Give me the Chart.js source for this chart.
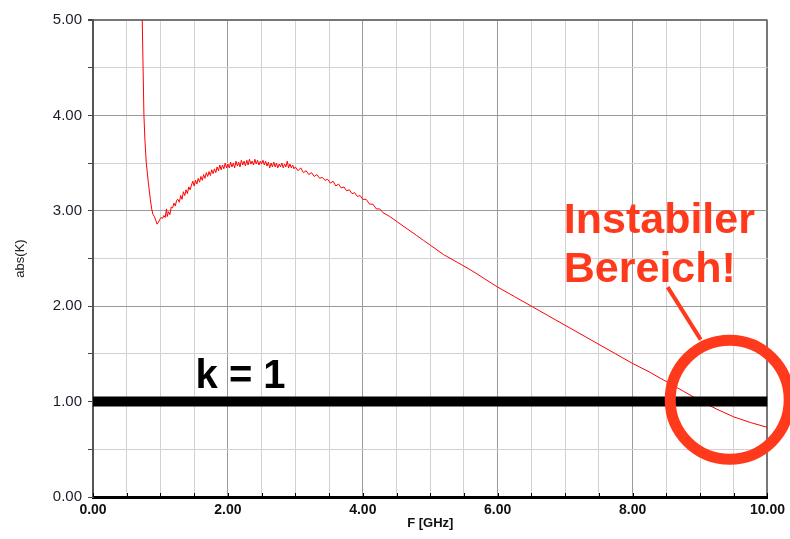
<!DOCTYPE html>
<html>
<head>
<meta charset="utf-8">
<title>abs(K)</title>
<script src="https://cdn.jsdelivr.net/npm/chart.js@4/dist/chart.umd.min.js"></script>
<style>
	html, body { margin: 0; padding: 0; background: #fff; }
	#wrap { width: 790px; height: 539px; }
</style>
</head>
<body>
<div id="wrap"><canvas id="kChart" width="790" height="539"></canvas></div>
<script>
'use strict'

// frequency in GHz
let freq = [
	0.73, 0.755, 0.77, 0.79, 0.82, 0.85, 0.87, 0.89, 0.91, 0.93, 0.95, 0.97, 0.99,
	1.01, 1.03, 1.05, 1.07, 1.09, 1.10, 1.12, 1.14, 1.16, 1.18, 1.20, 1.22, 1.24, 1.26, 1.28,
	1.30, 1.32, 1.34, 1.36, 1.38, 1.40, 1.42, 1.44, 1.46, 1.48, 1.50, 1.52, 1.54, 1.56, 1.58,
	1.60, 1.62, 1.64, 1.66, 1.68, 1.70, 1.72, 1.74, 1.76, 1.78, 1.80, 1.82, 1.84, 1.86, 1.88,
	1.90, 1.92, 1.94, 1.96, 1.98, 2.00, 2.02, 2.04, 2.06, 2.08, 2.10, 2.12, 2.14, 2.16, 2.18,
	2.20, 2.22, 2.24, 2.26, 2.28, 2.30, 2.32, 2.34, 2.36, 2.38, 2.40, 2.42, 2.44, 2.46, 2.48,
	2.50, 2.52, 2.54, 2.56, 2.58, 2.60, 2.62, 2.64, 2.66, 2.68, 2.70, 2.72, 2.74, 2.76, 2.78,
	2.80, 2.82, 2.84, 2.86, 2.88, 2.90, 2.92, 2.94, 2.96, 2.98, 3.00, 3.04, 3.08, 3.12, 3.16,
	3.20, 3.24, 3.28, 3.32, 3.36, 3.40, 3.44, 3.48, 3.52, 3.56, 3.60, 3.64, 3.68, 3.72, 3.76,
	3.80, 3.84, 3.88, 3.92, 3.96, 4.00, 4.05, 4.10, 4.15, 4.20, 4.25, 4.30, 4.40, 4.50, 4.60,
	4.70, 4.80, 4.90, 5.00, 5.20, 5.40, 5.60, 5.80, 6.00, 6.25, 6.50, 6.75, 7.00, 7.25, 7.50,
	7.75, 8.00, 8.25, 8.50, 8.75, 9.00, 9.25, 9.50, 9.75, 10.00
];

// abs(K) values matching freq
let absK = [
	5.00, 4.00, 3.74, 3.50, 3.30, 3.12, 3.02, 2.96, 2.94, 2.90, 2.86, 2.88, 2.91,
	2.93, 2.92, 2.95, 2.93, 3.02, 2.94, 2.99, 2.96, 3.04, 3.03, 3.08, 3.05, 3.11, 3.12, 3.09,
	3.16, 3.12, 3.20, 3.16, 3.22, 3.18, 3.25, 3.22, 3.27, 3.31, 3.26, 3.32, 3.28, 3.34, 3.30,
	3.36, 3.32, 3.38, 3.34, 3.40, 3.36, 3.41, 3.37, 3.43, 3.39, 3.44, 3.40, 3.46, 3.42, 3.48,
	3.43, 3.48, 3.44, 3.50, 3.45, 3.49, 3.45, 3.51, 3.46, 3.50, 3.45, 3.52, 3.47, 3.51, 3.46,
	3.53, 3.48, 3.52, 3.47, 3.53, 3.48, 3.54, 3.49, 3.52, 3.48, 3.54, 3.49, 3.53, 3.48, 3.52,
	3.49, 3.53, 3.48, 3.52, 3.47, 3.51, 3.45, 3.50, 3.46, 3.51, 3.46, 3.50, 3.45, 3.49, 3.46,
	3.50, 3.45, 3.49, 3.46, 3.52, 3.45, 3.49, 3.45, 3.48, 3.44, 3.46, 3.42, 3.45, 3.40, 3.42,
	3.38, 3.40, 3.36, 3.38, 3.34, 3.35, 3.32, 3.33, 3.29, 3.31, 3.26, 3.28, 3.24, 3.25, 3.21,
	3.22, 3.18, 3.19, 3.15, 3.16, 3.12, 3.12, 3.07, 3.07, 3.02, 3.02, 2.98, 2.94, 2.89, 2.84,
	2.79, 2.74, 2.69, 2.64, 2.54, 2.46, 2.38, 2.29, 2.20, 2.10, 2.00, 1.90, 1.80, 1.70, 1.60,
	1.50, 1.40, 1.31, 1.21, 1.11, 1.01, 0.92, 0.84, 0.78, 0.73
];

// k = 1 stability border
let kLineX = [0, 10];
let kLineY = [1, 1];

let xTicks = [0, 2, 4, 6, 8, 10];
let yTicks = [0, 1, 2, 3, 4, 5];

const FONT = '"Liberation Sans", Arial, sans-serif';
const MARK_RED = '#ff3a1c';

let annotations = {
	id: 'annotations',
	afterDatasetsDraw: (chart) => {
		let ctx = chart.ctx;
		let xs = chart.scales.x;
		let ys = chart.scales.y;
		let area = chart.chartArea;

		// small tick marks on the bottom axis, pointing inward
		ctx.save();
		ctx.strokeStyle = '#000';
		ctx.lineWidth = 1;
		xs.ticks.forEach((t) => {
			let px = Math.round(xs.getPixelForValue(t.value)) + 0.5;
			ctx.beginPath();
			ctx.moveTo(px, area.bottom);
			ctx.lineTo(px, area.bottom - 4);
			ctx.stroke();
		});
		ctx.restore();

		ctx.save();
		// marker circle
		ctx.strokeStyle = MARK_RED;
		ctx.lineWidth = 11;
		ctx.beginPath();
		ctx.arc(xs.getPixelForValue(9.44), ys.getPixelForValue(1.02), 59.5, 0, Math.PI * 2);
		ctx.stroke();

		// pointer from text to circle
		ctx.lineWidth = 4;
		ctx.beginPath();
		ctx.moveTo(xs.getPixelForValue(8.52), ys.getPixelForValue(2.20));
		ctx.lineTo(xs.getPixelForValue(9.01), ys.getPixelForValue(1.65));
		ctx.stroke();

		ctx.fillStyle = MARK_RED;
		ctx.font = 'bold 43px ' + FONT;
		ctx.textAlign = 'left';
		ctx.textBaseline = 'alphabetic';
		ctx.fillText('Instabiler', xs.getPixelForValue(6.98), ys.getPixelForValue(2.77));
		ctx.fillText('Bereich!', xs.getPixelForValue(6.98), ys.getPixelForValue(2.25));

		ctx.fillStyle = '#000';
		ctx.font = 'bold 40px ' + FONT;
		ctx.fillText('k = 1', xs.getPixelForValue(1.52), ys.getPixelForValue(1.14));
		ctx.restore();
	}
};

let whiteBg = {
	id: 'whiteBg',
	beforeDraw: (chart) => {
		let ctx = chart.ctx;
		ctx.save();
		ctx.fillStyle = '#fff';
		ctx.fillRect(0, 0, chart.width, chart.height);
		ctx.restore();
	}
};

let curve = freq.map((f, i) => ({ x: f, y: absK[i] }));
let kLine = kLineX.map((f, i) => ({ x: f, y: kLineY[i] }));

let ctx = document.getElementById('kChart').getContext('2d');
let chart = new Chart(ctx, {
	type: 'line',
	data: {
		datasets: [
			{
				label: 'k = 1',
				data: kLine,
				borderColor: '#000',
				borderWidth: 10,
				borderCapStyle: 'butt',
				pointRadius: 0
			},
			{
				label: 'abs(K)',
				data: curve,
				borderColor: '#ff0000',
				borderWidth: 1,
				tension: 0,
				pointRadius: 0
			}
		]
	},
	options: {
		responsive: false,
		animation: false,
		events: [],
		layout: {
			padding: { left: 0, top: 20, right: 21, bottom: 0 }
		},
		plugins: {
			legend: { display: false },
			tooltip: { enabled: false }
		},
		scales: {
			x: {
				type: 'linear',
				min: 0,
				max: 10,
				afterFit: (scale) => { scale.height = 42; },
				ticks: {
					stepSize: 0.5,
					autoSkip: false,
					maxRotation: 0,
					padding: 5,
					color: '#111',
					font: { family: FONT, size: 14, weight: 'bold' },
					callback: (v) => xTicks.includes(v) ? v.toFixed(2) : ''
				},
				grid: {
					drawTicks: false,
					color: (c) => c.tick && c.tick.value === 10 ? '#777' : (c.tick && xTicks.includes(c.tick.value) ? '#9a9a9a' : '#d2d2d2'),
					lineWidth: (c) => c.tick && c.tick.value === 10 ? 2 : 1
				},
				border: { color: '#000', width: 3 },
				title: {
					display: true,
					text: 'F [GHz]',
					color: '#111',
					font: { family: FONT, size: 13, weight: 'bold' },
					padding: { top: 8, bottom: 8 }
				}
			},
			y: {
				type: 'linear',
				min: 0,
				max: 5,
				afterFit: (scale) => { scale.width = 93; },
				ticks: {
					stepSize: 0.5,
					autoSkip: false,
					padding: 6,
					color: '#1c1c2c',
					font: { family: FONT, size: 15 },
					callback: (v) => yTicks.includes(v) ? v.toFixed(2) : ''
				},
				grid: {
					drawTicks: true,
					tickLength: 5,
					tickColor: '#444',
					color: (c) => c.tick && c.tick.value === 5 ? '#777' : (c.tick && yTicks.includes(c.tick.value) ? '#9a9a9a' : '#d2d2d2'),
					lineWidth: (c) => c.tick && c.tick.value === 5 ? 2 : 1
				},
				border: { color: '#555', width: 2 },
				title: {
					display: true,
					text: 'abs(K)',
					color: '#222',
					font: { family: FONT, size: 13 },
					padding: { top: 13, bottom: 4 }
				}
			}
		}
	},
	plugins: [whiteBg, annotations]
});
</script>
</body>
</html>
